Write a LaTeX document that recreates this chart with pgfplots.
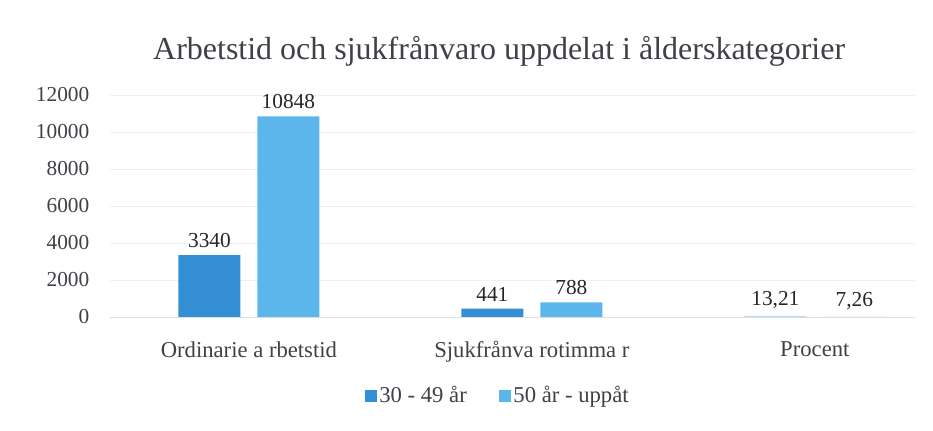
\documentclass[border=0pt]{standalone}
\usepackage{fontspec}
\setmainfont{Liberation Serif}
\usepackage{pgfplots}
\pgfplotsset{compat=1.18}
\definecolor{darkb}{RGB}{52,142,212}
\definecolor{lightb}{RGB}{92,182,236}
\definecolor{txt}{RGB}{64,64,72}
\begin{document}
\begin{tikzpicture}
\useasboundingbox (-82.5pt,-85.5pt) rectangle (617.5pt,237.75pt);
\begin{axis}[
  at={(0pt,0pt)}, anchor=south west,
  scale only axis, width=604pt, height=166.5pt,
  ybar=12.75pt, bar width=46.5pt,
  xmin=-0.491, xmax=2.354,
  ymin=0, ymax=12000,
  ytick={0,2000,...,12000},
  scaled y ticks=false,
  xtick={0,1,2},
  xticklabels={Ordinarie a rbetstid, Sjukfrånva rotimma r, Procent},
  /pgf/number format/assume math mode=true,
  /pgf/number format/1000 sep={},
  yticklabel style={font=\fontsize{16}{18}\selectfont, text=txt, xshift=-12pt},
  xticklabel style={font=\fontsize{17}{19}\selectfont, text=txt, yshift=-15pt},
  major tick length=0pt,
  axis line style={draw=none},
  ymajorgrids, major grid style={gray!12},
  title={Arbetstid och sjukfrånvaro uppdelat i ålderskategorier},
  title style={font=\fontsize{24}{28}\selectfont, text=txt, yshift=12pt, xshift=-10pt},
  nodes near coords={\pgfmathprintnumber[fixed,precision=2,use comma,1000 sep={}]{\pgfplotspointmeta}},
  nodes near coords style={font=\fontsize{16}{18}\selectfont, text=black!85, yshift=2pt},
  legend style={at={(0.482,-0.355)}, anchor=center, draw=none, legend columns=2,
     font=\fontsize{17}{19}\selectfont, text=txt, /tikz/every even column/.append style={column sep=22pt}},
  legend image code/.code={\fill[#1] (0pt,-4.5pt) rectangle (9pt,4.5pt);},
  clip=false,
]
\addplot[fill=darkb, draw=none] coordinates {(0,3340) (1,441) (2,13.21)};
\addplot[fill=lightb, draw=none] coordinates {(0,10848) (1,788) (2,7.26)};
\draw[gray!25] (axis cs:-0.491,0) -- (axis cs:2.354,0);
\legend{30 - 49 år, 50 år - uppåt}
\end{axis}
\end{tikzpicture}
\end{document}
